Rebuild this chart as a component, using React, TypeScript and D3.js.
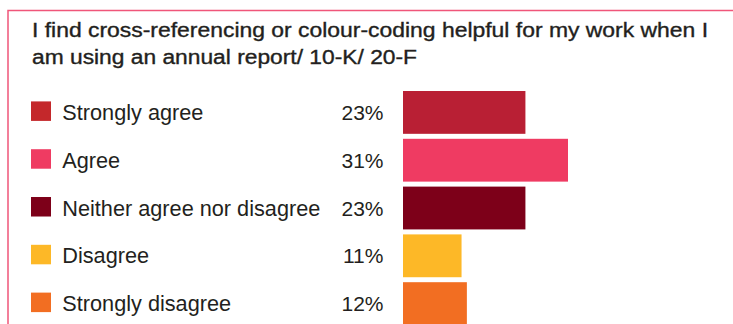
import React from "react";
import * as d3 from "d3";

const title = [
  "I find cross-referencing or colour-coding helpful for my work when I",
  "am using an annual report/ 10-K/ 20-F",
];
const titleWidths = [676, 385];
const categories = [
  "Strongly agree",
  "Agree",
  "Neither agree nor disagree",
  "Disagree",
  "Strongly disagree",
];
const values = [23, 31, 23, 11, 12];
const colors = ["#b91f34", "#ef3b62", "#7d0019", "#fdb827", "#f26e22"];
const swatchColors = ["#c4282b", "#ef3b62", "#7d0019", "#fdb827", "#f26e22"];

const W = 733;
const H = 324;

export default function App() {
  const x = d3.scaleLinear().domain([0, 31]).range([403, 568]);
  const p = 5 / 48;
  const o = 0.05;
  const step = 47.8;
  const r0 = 91 - o * step;
  const y = d3
    .scaleBand<string>()
    .domain(categories)
    .range([r0, r0 + step * (categories.length - p + 2 * o)])
    .paddingInner(p)
    .paddingOuter(o);
  const font = "'Liberation Sans', Arial, Helvetica, sans-serif";
  return (
    <svg
      width={W}
      height={H}
      style={{ position: "fixed", left: 0, top: 0, background: "#fff" }}
      fontFamily={font}
    >
      <path d={`M8,${H} V10.5 H${W}`} fill="none" stroke="#f0567a" strokeWidth={1.5} />
      {title.map((t, i) => (
        <text
          key={i}
          x={32}
          y={37.3 + i * 26.3}
          fontSize={19.5}
          fill="#231f20"
          stroke="#231f20"
          strokeWidth={0.35}
          textLength={titleWidths[i]}
          lengthAdjust="spacingAndGlyphs"
        >
          {t}
        </text>
      ))}
      {categories.map((c, i) => {
        const yy = y(c)!;
        const bh = y.bandwidth();
        const cy = yy + bh / 2;
        return (
          <g key={c}>
            <rect x={31} y={cy - 11} width={20} height={19.5} fill={swatchColors[i]} />
            <text x={62.3} y={cy + 7.5} fontSize={21.7} fill="#231f20">
              {c}
            </text>
            <text x={383.5} y={cy + 7.5} fontSize={21} fill="#231f20" textAnchor="end">
              {values[i]}%
            </text>
            <rect x={x(0)} y={yy} width={x(values[i]) - x(0)} height={bh} fill={colors[i]} />
          </g>
        );
      })}
    </svg>
  );
}
